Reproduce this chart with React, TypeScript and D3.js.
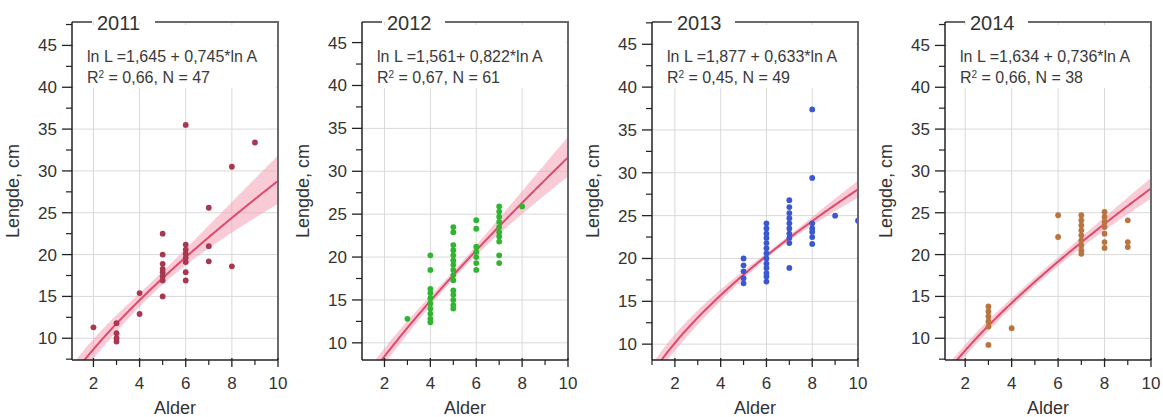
import React from "react";
import * as d3 from "d3";

// ---------- data ----------
const years = ["2011", "2012", "2013", "2014"];
const interceptsLn = [1.645, 1.561, 1.877, 1.634];
const slopesLn = [0.745, 0.822, 0.633, 0.736];
const equationLabels = [
  "ln L =1,645 + 0,745*ln A",
  "ln L =1,561+ 0,822*ln A",
  "ln L =1,877 + 0,633*ln A",
  "ln L =1,634 + 0,736*ln A",
];
const r2Labels = ["0,66", "0,67", "0,45", "0,66"];
const nCounts = [47, 61, 49, 38];

const ages2011 = [2, 3, 3, 3, 3, 4, 4, 5, 5, 5, 5, 5, 5, 5, 5, 6, 6, 6, 6, 6, 6, 6, 6, 7, 7, 7, 8, 8, 9];
const lengths2011 = [11.3, 11.8, 10.6, 10.0, 9.6, 15.4, 12.9, 22.5, 20.0, 18.9, 18.3, 17.9, 17.4, 16.9, 15.0, 35.5, 21.2, 20.6, 20.1, 19.6, 19.1, 17.9, 16.9, 25.6, 21.0, 19.2, 30.5, 18.6, 33.4];

const ages2012 = [3, 4, 4, 4, 4, 4, 4, 4, 4, 4, 4, 5, 5, 5, 5, 5, 5, 5, 5, 5, 5, 5, 5, 5, 5, 5, 6, 6, 6, 6, 6, 6, 6, 7, 7, 7, 7, 7, 7, 7, 7, 7, 7, 8];
const lengths2012 = [12.8, 20.2, 18.5, 16.3, 15.8, 15.2, 14.6, 14.0, 13.4, 12.8, 12.4, 23.5, 22.9, 21.4, 20.8, 20.2, 19.6, 19.1, 18.5, 17.9, 17.3, 16.1, 15.6, 15.0, 14.4, 14.0, 24.3, 23.3, 21.2, 20.6, 20.0, 19.3, 18.5, 25.9, 25.3, 24.7, 24.1, 23.5, 22.9, 22.4, 21.8, 20.2, 19.3, 25.9];

const ages2013 = [5, 5, 5, 5, 5, 6, 6, 6, 6, 6, 6, 6, 6, 6, 6, 6, 6, 6, 7, 7, 7, 7, 7, 7, 7, 7, 7, 7, 8, 8, 8, 8, 8, 8, 8, 9, 10];
const lengths2013 = [20.0, 19.2, 18.5, 17.7, 17.1, 24.1, 23.5, 22.9, 22.4, 21.8, 21.2, 20.6, 20.0, 19.4, 18.9, 18.3, 17.9, 17.3, 26.8, 26.0, 25.3, 24.7, 24.1, 23.5, 22.9, 22.4, 21.8, 18.9, 37.4, 29.4, 24.1, 23.5, 23.1, 22.5, 21.7, 25.0, 24.4];

const ages2014 = [3, 3, 3, 3, 3, 3, 4, 6, 6, 7, 7, 7, 7, 7, 7, 7, 7, 7, 8, 8, 8, 8, 8, 8, 8, 9, 9, 9];
const lengths2014 = [13.8, 13.2, 12.6, 12.0, 11.4, 9.2, 11.2, 24.7, 22.1, 24.7, 24.1, 23.5, 22.9, 22.3, 21.7, 21.1, 20.5, 20.1, 25.1, 24.5, 23.9, 23.3, 22.5, 21.5, 20.8, 24.1, 21.5, 20.9];

const agesByYear = [ages2011, ages2012, ages2013, ages2014];
const lengthsByYear = [lengths2011, lengths2012, lengths2013, lengths2014];

const xTicks = [2, 4, 6, 8, 10];
const xMinorTicks = [1, 3, 5, 7, 9];
const yTicks = [10, 15, 20, 25, 30, 35, 40, 45];
const yMinorTicks = [7.5, 12.5, 17.5, 22.5, 27.5, 32.5, 37.5, 42.5, 47.5];

// ---------- layout / style ----------
const W = 1163;
const H = 417;
const panelLefts = [72, 362, 652, 945];
const plotW = 206;
const plotTop = 22;
const plotBottom = 360;
const xDomains = [[1.07, 10], [1.02, 10], [1.0, 10], [1.13, 10]];
const yDomains = [[7.4, 47.8], [8.0, 47.4], [8.15, 47.6], [7.4, 47.8]];
const bandT = [1.7, 1.4, 0.75, 1.3];
const pointColors = ["#a8374f", "#2fb52f", "#3a58cf", "#b9743f"];
const lineColor = "#e04a6a";
const bandColor = "#f4a0b4";
const FONT = "'Liberation Sans', Arial, Helvetica, sans-serif";
const TEXT = "#333";

function Panel({ i }: { i: number }) {
  const left = panelLefts[i];
  const right = left + plotW;
  const x = d3.scaleLinear().domain(xDomains[i]).range([left, right]);
  const y = d3.scaleLinear().domain(yDomains[i]).range([plotBottom, plotTop]);
  const a = interceptsLn[i];
  const b = slopesLn[i];
  const ages = agesByYear[i];
  const lens = lengthsByYear[i];

  // confidence band derived from the read points (log-log regression)
  const lx = ages.map((v) => Math.log(v));
  const n = ages.length;
  const N = nCounts[i];
  const m = d3.mean(lx) as number;
  const sxx = d3.sum(lx, (v) => (v - m) * (v - m)) * (N / n);
  const resid = ages.map((v, k) => Math.log(lens[k]) - (a + b * Math.log(v)));
  const s = Math.sqrt(d3.sum(resid, (r) => r * r) / Math.max(1, n - 2));
  const t = bandT[i];
  const hw = (xv: number) => t * s * Math.sqrt(1 / N + (Math.log(xv) - m) ** 2 / sxx);

  const xs = d3.range(0, 201).map((k) => xDomains[i][0] + (k / 200) * (xDomains[i][1] - xDomains[i][0]));
  const fit = (xv: number) => Math.exp(a + b * Math.log(xv));
  const lineGen = d3.line<number>().x((v) => x(v)).y((v) => y(fit(v)));
  const areaGen = d3
    .area<number>()
    .x((v) => x(v))
    .y0((v) => y(Math.exp(a + b * Math.log(v) - hw(v))))
    .y1((v) => y(Math.exp(a + b * Math.log(v) + hw(v))));

  const clipId = `clip-${i}`;
  const titleX = left + 25;
  const titleW = 46;

  return (
    <g>
      <defs>
        <clipPath id={clipId}>
          <rect x={left} y={plotTop} width={plotW} height={plotBottom - plotTop} />
        </clipPath>
      </defs>
      {/* grid */}
      {xTicks.filter((v) => v < 10).map((v) => (
        <line key={`gx${v}`} x1={x(v)} x2={x(v)} y1={plotTop} y2={plotBottom} stroke="#d9d9d9" strokeWidth={1} />
      ))}
      {yTicks.map((v) => (
        <line key={`gy${v}`} x1={left} x2={right} y1={y(v)} y2={y(v)} stroke="#d9d9d9" strokeWidth={1} />
      ))}
      {/* text box */}
      <rect x={left + 2} y={plotTop + 3} width={plotW - 4} height={63} fill="#fff" />
      <g clipPath={`url(#${clipId})`}>
        <path d={areaGen(xs) || ""} fill={bandColor} opacity={0.55} />
        <path d={lineGen(xs) || ""} fill="none" stroke={lineColor} strokeWidth={2} />
        {ages.map((v, k) => (
          <circle key={k} cx={x(v)} cy={y(lens[k])} r={2.9} fill={pointColors[i]} />
        ))}
      </g>
      {/* frame top/right */}
      <line x1={left} x2={titleX - 5} y1={plotTop} y2={plotTop} stroke="#6a6a6a" strokeWidth={2} />
      <line x1={titleX + titleW + 12} x2={right} y1={plotTop} y2={plotTop} stroke="#6a6a6a" strokeWidth={2} />
      <line x1={right} x2={right} y1={plotTop - 1} y2={plotBottom} stroke="#6a6a6a" strokeWidth={2} />
      <text x={titleX} y={plotTop + 8} fontSize={20} fill={TEXT} fontFamily={FONT}>
        {years[i]}
      </text>
      {/* equation */}
      <text x={left + 15} y={plotTop + 40} fontSize={16} fill="#3a3a3a" fontFamily={FONT}>
        {equationLabels[i]}
      </text>
      <text x={left + 15} y={plotTop + 61} fontSize={16} fill="#3a3a3a" fontFamily={FONT}>
        R<tspan baselineShift="super" fontSize={10}>2</tspan>
        {` = ${r2Labels[i]}, N = ${nCounts[i]}`}
      </text>
      {/* axes */}
      <line x1={left} x2={left} y1={plotTop} y2={plotBottom} stroke="#222" strokeWidth={1.5} />
      <line x1={left} x2={right} y1={plotBottom} y2={plotBottom} stroke="#222" strokeWidth={1.5} />
      {yTicks.map((v) => (
        <g key={`yt${v}`}>
          <line x1={left - 10} x2={left} y1={y(v)} y2={y(v)} stroke="#222" strokeWidth={1.3} />
          <text x={left - 15} y={y(v) + 6} textAnchor="end" fontSize={17} fill={TEXT} fontFamily={FONT}>
            {v}
          </text>
        </g>
      ))}
      {yMinorTicks
        .filter((v) => v >= yDomains[i][0] && v <= yDomains[i][1])
        .map((v) => (
          <line key={`ym${v}`} x1={left - 6} x2={left} y1={y(v)} y2={y(v)} stroke="#222" strokeWidth={1.2} />
        ))}
      {xTicks.map((v) => (
        <g key={`xt${v}`}>
          <line x1={x(v)} x2={x(v)} y1={plotBottom - 2} y2={plotBottom + 7} stroke="#222" strokeWidth={1.3} />
          <text x={x(v)} y={plotBottom + 29} textAnchor="middle" fontSize={17} fill={TEXT} fontFamily={FONT}>
            {v}
          </text>
        </g>
      ))}
      {xMinorTicks
        .filter((v) => v >= xDomains[i][0] && v <= xDomains[i][1])
        .map((v) => (
          <line key={`xm${v}`} x1={x(v)} x2={x(v)} y1={plotBottom} y2={plotBottom + 5} stroke="#222" strokeWidth={1.2} />
        ))}
      <text x={(left + right) / 2} y={plotBottom + 54} textAnchor="middle" fontSize={18} fill={TEXT} fontFamily={FONT}>
        Alder
      </text>
      <text
        transform={`translate(${left - 53},${(plotTop + plotBottom) / 2}) rotate(-90)`}
        textAnchor="middle"
        fontSize={18}
        fill={TEXT}
        fontFamily={FONT}
      >
        Lengde, cm
      </text>
    </g>
  );
}

export default function App() {
  return (
    <svg
      width={W}
      height={H}
      viewBox={`0 0 ${W} ${H}`}
      style={{ position: "absolute", left: 0, top: 0, display: "block", background: "#fff" }}
    >
      <rect x={0} y={0} width={W} height={H} fill="#fff" />
      {years.map((_, i) => (
        <Panel key={i} i={i} />
      ))}
    </svg>
  );
}
